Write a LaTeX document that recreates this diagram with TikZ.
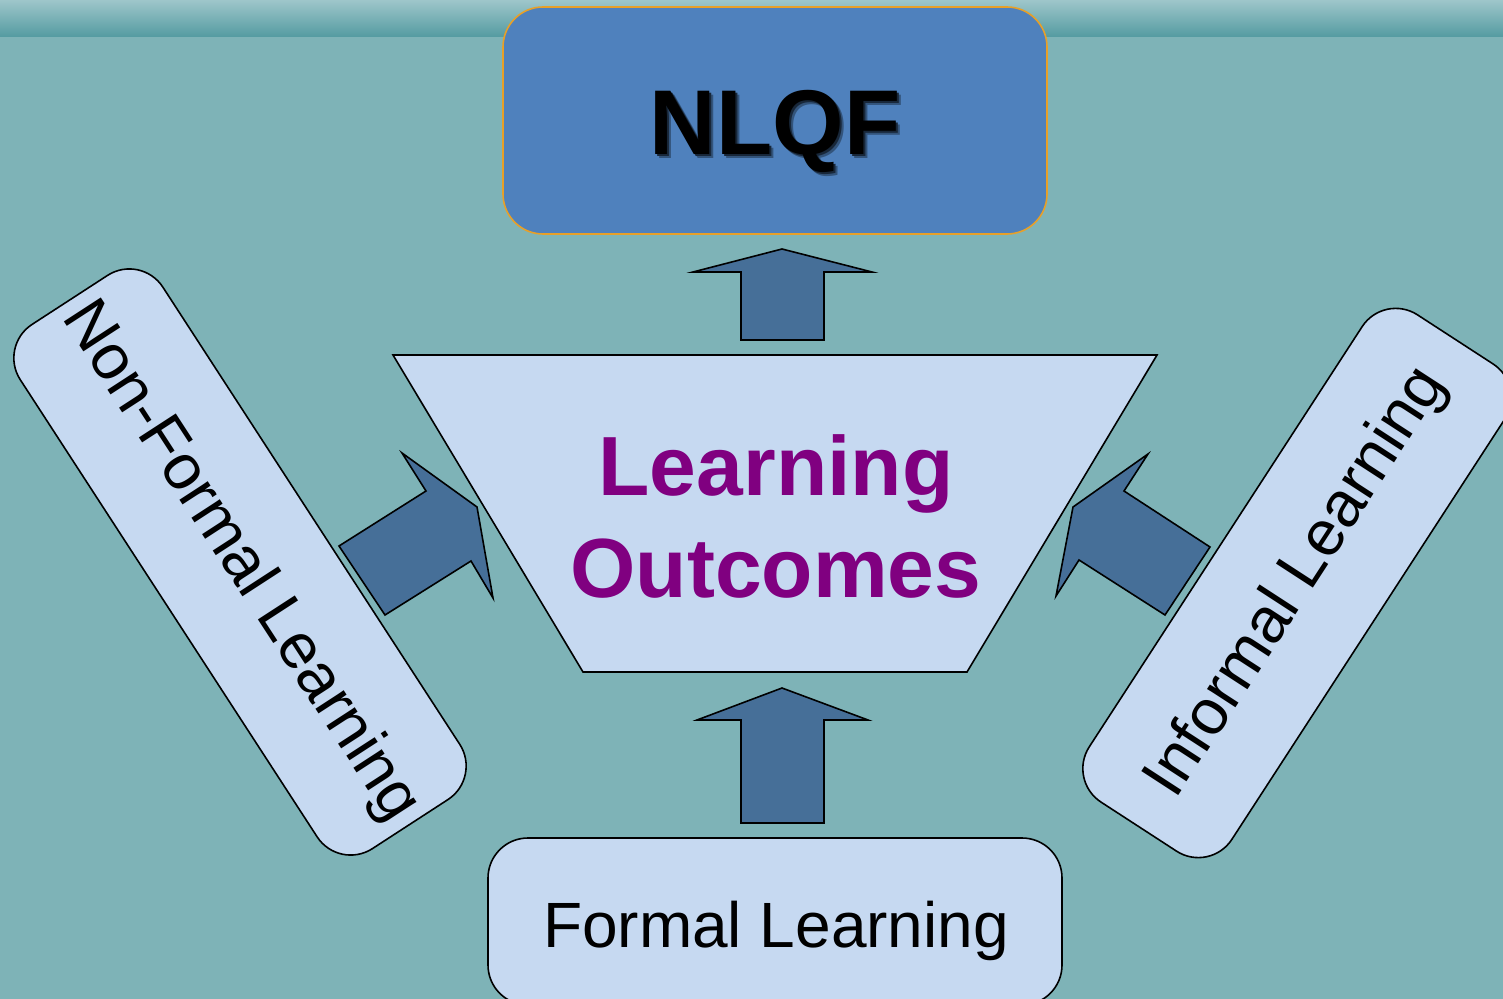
\documentclass[tikz,border=0pt]{standalone}
\usepackage{fontspec}
\setmainfont{Liberation Sans}
\definecolor{bg}{RGB}{126,179,183}
\definecolor{bandtop}{RGB}{158,198,202}
\definecolor{bandbot}{RGB}{84,155,161}
\definecolor{boxfill}{RGB}{198,217,241}
\definecolor{arrowfill}{RGB}{70,111,152}
\definecolor{nlqffill}{RGB}{79,129,189}
\definecolor{nlqfline}{RGB}{232,160,40}
\definecolor{lopurple}{RGB}{128,0,128}
\newcommand{\shadowtext}[1]{%
  \rlap{\kern2pt\raisebox{-2pt}{\color{black!35!nlqffill}#1}}%
  \rlap{\kern1pt\raisebox{-1pt}{\color{black!70!nlqffill}#1}}%
  #1}
\begin{document}
\begin{tikzpicture}[x=0.5pt,y=-0.5pt,
  lbox/.style={draw=black,line width=0.8pt,fill=boxfill,rounded corners=20pt,inner sep=0pt,
    font=\fontsize{32}{38}\selectfont},
  blockarrow/.style={draw=black,line width=0.8pt,fill=arrowfill,line join=miter},
  plaintext/.style={inner sep=0pt}]
\useasboundingbox (0,0) rectangle (1503,999);
\clip (0,0) rectangle (1503,999);
\fill[bg] (0,0) rectangle (1503,999);
\shade[top color=bandtop,bottom color=bandbot] (0,0) rectangle (1503,37);

% NLQF box
\node[draw=nlqfline,line width=0.8pt,fill=nlqffill,rounded corners=20pt,
  minimum width=272pt,minimum height=113.5pt,inner sep=0pt] (nlqf) at (775,120.5) {};
\node[plaintext,anchor=base,text=black,font=\fontsize{46}{50}\selectfont\bfseries] (nlqftxt) at (775,155) {\shadowtext{NLQF}};

% side boxes
\node[lbox,rotate=-57,minimum width=312.5pt,minimum height=85pt] (nonformal) at (240,562) {Non-Formal Learning};
\node[lbox,rotate=57,minimum width=290.5pt,minimum height=85pt] (informal) at (1297,583) {Informal Learning};

% formal box
\node[lbox,minimum width=287pt,minimum height=83.5pt] (formal) at (775,921.5) {};
\node[plaintext,anchor=base,font=\fontsize{32}{38}\selectfont] (formaltxt) at (776,947) {Formal Learning};

% trapezoid
\draw[line width=0.8pt,fill=boxfill] (393,355) -- (1157,355) -- (967,672) -- (583,672) -- cycle;
\node[plaintext,anchor=base,text=lopurple,font=\fontsize{42}{50}\selectfont\bfseries] (lo1) at (776,495) {Learning};
\node[plaintext,anchor=base,text=lopurple,font=\fontsize{42}{50}\selectfont\bfseries] (lo2) at (776,597) {Outcomes};

% block arrows
\draw[blockarrow] (782,249) -- (872,272) -- (824,272) -- (824,340) -- (741,340) -- (741,272) -- (693,272) -- cycle;
\draw[blockarrow] (782,688) -- (868,720) -- (824,720) -- (824,823) -- (741,823) -- (741,720) -- (697,720) -- cycle;
\draw[blockarrow] (339,546) -- (426,491) -- (402,453) -- (477,507) -- (493,598) -- (471,561) -- (385,615) -- cycle;
\draw[blockarrow] (1210,547) -- (1124,491) -- (1148,454) -- (1073,507) -- (1056,596) -- (1079,560) -- (1165,615) -- cycle;
\end{tikzpicture}
\end{document}
